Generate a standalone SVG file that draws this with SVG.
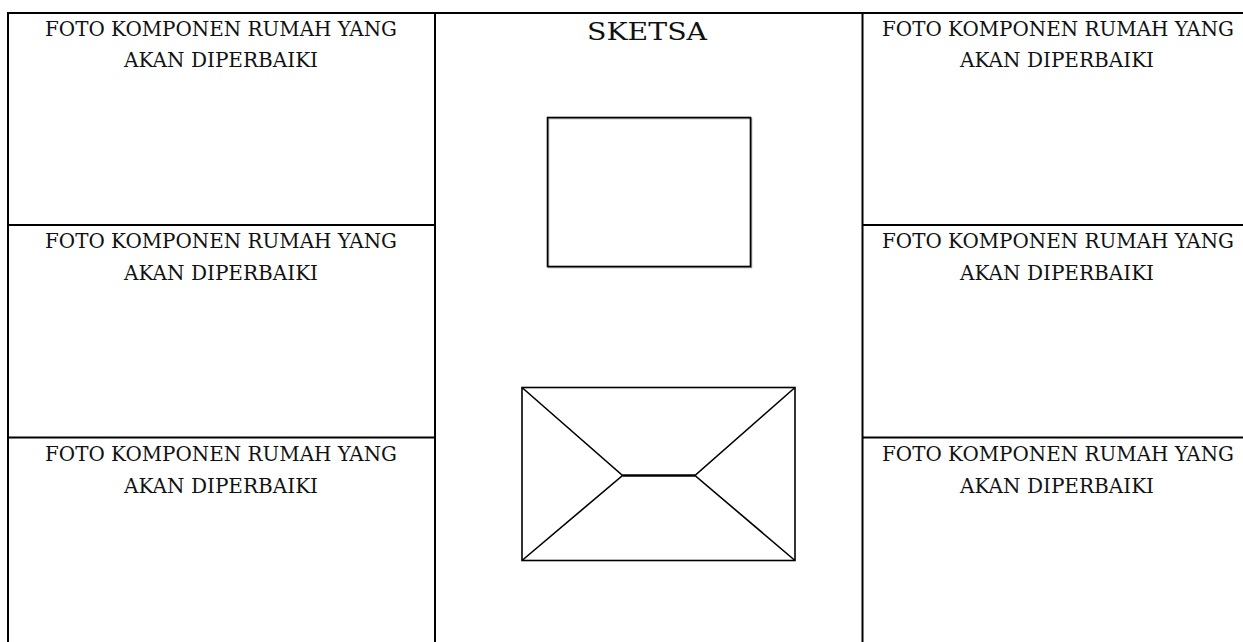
<svg xmlns="http://www.w3.org/2000/svg" width="1243" height="642" viewBox="0 0 1243 642">
<style>
.grid{stroke:#000;stroke-width:2;fill:none}
.lbl{font-family:"DejaVu Serif","Liberation Serif",serif;font-size:20px;fill:#111;text-anchor:middle}
.ttl{font-family:"DejaVu Serif","Liberation Serif",serif;font-size:24px;fill:#111;text-anchor:middle}
.shape{stroke:#000;stroke-width:1.6;fill:none}
</style>
<rect width="1243" height="642" fill="#fff"/>
<g id="table-lines" class="grid">
<line x1="7" y1="13" x2="1243" y2="13"/>
<line x1="8" y1="12" x2="8" y2="642"/>
<line x1="435" y1="12" x2="435" y2="642"/>
<line x1="862.5" y1="12" x2="862.5" y2="642"/>
<line x1="8" y1="225" x2="435" y2="225"/>
<line x1="8" y1="437.5" x2="435" y2="437.5"/>
<line x1="862" y1="225" x2="1243" y2="225"/>
<line x1="862" y1="437.5" x2="1243" y2="437.5"/>
</g>
<g id="cell-left-1">
<text class="lbl" x="221" y="36" textLength="352" lengthAdjust="spacingAndGlyphs">FOTO KOMPONEN RUMAH YANG</text>
<text class="lbl" x="221" y="67" textLength="194" lengthAdjust="spacingAndGlyphs">AKAN DIPERBAIKI</text>
</g>
<g id="cell-left-2">
<text class="lbl" x="221" y="248" textLength="352" lengthAdjust="spacingAndGlyphs">FOTO KOMPONEN RUMAH YANG</text>
<text class="lbl" x="221" y="280" textLength="194" lengthAdjust="spacingAndGlyphs">AKAN DIPERBAIKI</text>
</g>
<g id="cell-left-3">
<text class="lbl" x="221" y="461" textLength="352" lengthAdjust="spacingAndGlyphs">FOTO KOMPONEN RUMAH YANG</text>
<text class="lbl" x="221" y="493" textLength="194" lengthAdjust="spacingAndGlyphs">AKAN DIPERBAIKI</text>
</g>
<g id="cell-right-1">
<text class="lbl" x="1058" y="36" textLength="352" lengthAdjust="spacingAndGlyphs">FOTO KOMPONEN RUMAH YANG</text>
<text class="lbl" x="1057" y="67" textLength="194" lengthAdjust="spacingAndGlyphs">AKAN DIPERBAIKI</text>
</g>
<g id="cell-right-2">
<text class="lbl" x="1058" y="248" textLength="352" lengthAdjust="spacingAndGlyphs">FOTO KOMPONEN RUMAH YANG</text>
<text class="lbl" x="1057" y="280" textLength="194" lengthAdjust="spacingAndGlyphs">AKAN DIPERBAIKI</text>
</g>
<g id="cell-right-3">
<text class="lbl" x="1058" y="461" textLength="352" lengthAdjust="spacingAndGlyphs">FOTO KOMPONEN RUMAH YANG</text>
<text class="lbl" x="1057" y="493" textLength="194" lengthAdjust="spacingAndGlyphs">AKAN DIPERBAIKI</text>
</g>
<g id="cell-sketch">
<text class="ttl" x="647" y="40" textLength="120" lengthAdjust="spacingAndGlyphs">SKETSA</text>
<g id="sketch-rect">
<rect x="548.5" y="118.5" width="203" height="149" fill="none" stroke="#999" stroke-width="1.5"/>
<rect x="547.5" y="117.5" width="203" height="149" class="shape" stroke-width="1.8"/>
</g>
<g id="sketch-envelope" class="shape">
<rect x="522" y="387.5" width="273" height="173"/>
<polyline points="522,387.5 622.5,475.5 522,560.5"/>
<polyline points="795,387.5 695,475.5 795,560.5"/>
<line x1="622.5" y1="475.5" x2="695" y2="475.5" stroke-width="2.6"/>
</g>
</g>
</svg>
